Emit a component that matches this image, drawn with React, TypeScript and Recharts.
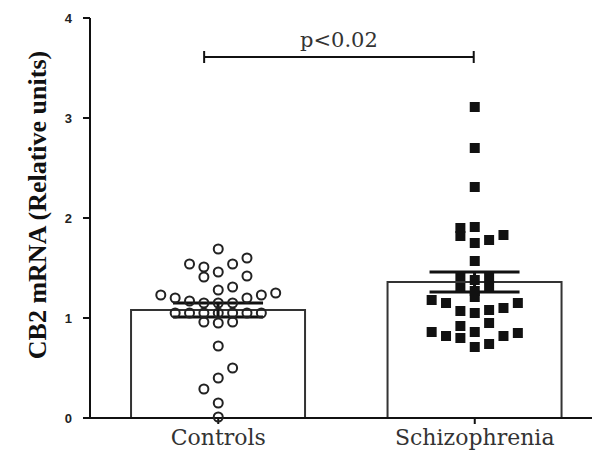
import React from 'react';
import {
  ComposedChart,
  Bar,
  ErrorBar,
  Scatter,
  XAxis,
  YAxis,
  ReferenceLine,
} from 'recharts';

// groups and summary values
const groups = ['Controls', 'Schizophrenia'];
const groupMeans = [1.08, 1.36];
const groupSems = [0.07, 0.1];
const yTicks = [0, 1, 2, 3, 4];

// individual subjects: jitter column and value
const controlCols = [
  0, 2, -2, -1, 1, -1, 0, 2, 0, 1,
  -4, -3, -2, -1, 0, 1, 2, 3, 4,
  -3, -2, -1, 0, 1, 2, 3,
  -1, 0, 1,
  0, 1, 0, -1, 0, 0,
];
const controlVals = [
  1.69, 1.6, 1.54, 1.51, 1.54, 1.41, 1.46, 1.42, 1.28, 1.31,
  1.23, 1.2, 1.17, 1.15, 1.15, 1.15, 1.2, 1.23, 1.25,
  1.05, 1.05, 1.05, 1.05, 1.05, 1.05, 1.05,
  0.96, 0.95, 0.96,
  0.72, 0.5, 0.4, 0.29, 0.15, 0.01,
];
const schizoCols = [
  0, 0, 0,
  -1, -1, 0, 0, 1, 2,
  0,
  -1, 0, 1, -1, 0, 1,
  0,
  -3, -2, -1, 0, 1, 2, 3,
  1, -1, -3, -2, -1, 0, 2, 3, 0, 1,
];
const schizoVals = [
  3.11, 2.7, 2.31,
  1.9, 1.82, 1.91, 1.75, 1.78, 1.83,
  1.57,
  1.42, 1.38, 1.41, 1.3, 1.27, 1.32,
  1.21,
  1.18, 1.15, 1.07, 1.05, 1.08, 1.1, 1.15,
  0.95, 0.92, 0.86, 0.82, 0.8, 0.86, 0.82, 0.85, 0.71, 0.74,
];

// significance bracket
const bracketFrom = 0.445;
const bracketTo = 1.496;
const bracketY = 3.61;
const bracketLabel = 'p<0.02';

const COL_STEP = 0.056;

const barData = groups.map((name, i) => ({ name, mean: groupMeans[i], sem: groupSems[i] }));
const controlPts = controlVals.map((y, i) => ({ x: 0.5 + controlCols[i] * COL_STEP, y }));
const schizoPts = schizoVals.map((y, i) => ({ x: 1.5 + schizoCols[i] * COL_STEP, y }));

const OpenCircle = (props: any) => (
  <circle cx={props.cx} cy={props.cy} r={4.5} fill="none" stroke="#222" strokeWidth={2} />
);
const FilledSquare = (props: any) => (
  <rect x={props.cx - 5} y={props.cy - 5} width={10} height={10} fill="#111" />
);

export default function App() {
  return (
    <div style={{ width: 592, height: 456, overflow: 'hidden' }}>
      <ComposedChart
        width={595}
        height={456}
        data={barData}
        margin={{ top: 10, right: 0, bottom: 0, left: 0 }}
        barCategoryGap="16%"
      >
        <XAxis
          xAxisId="cat"
          dataKey="name"
          type="category"
          height={46}
          stroke="#111"
          strokeWidth={2}
          tickSize={6}
          tickMargin={5}
          tick={{ fontSize: 22, fontFamily: 'DejaVu Serif', fill: '#333' }}
        />
        <XAxis xAxisId="num" dataKey="x" type="number" domain={[0, 2]} hide />
        <YAxis
          domain={[0, 4]}
          ticks={yTicks}
          width={82}
          stroke="#111"
          strokeWidth={2}
          tickSize={7}
          tickMargin={11}
          tick={{ fontSize: 13, fontFamily: 'Liberation Sans', fontWeight: 'bold', fill: '#222' }}
          label={{
            value: 'CB2 mRNA (Relative units)',
            angle: -90,
            position: 'center',
            dx: -12,
            dy: -13,
            style: { fontSize: 26, fontFamily: 'Liberation Serif', fontWeight: 'bold', fill: '#111', textAnchor: 'middle' },
          }}
        />
        <Bar xAxisId="cat" dataKey="mean" fill="#fff" stroke="#333" strokeWidth={2} isAnimationActive={false}>
          <ErrorBar dataKey="sem" width={45} stroke="#111" strokeWidth={3} direction="y" />
        </Bar>
        <Scatter xAxisId="num" data={controlPts} dataKey="y" shape={OpenCircle} isAnimationActive={false} />
        <Scatter xAxisId="num" data={schizoPts} dataKey="y" shape={FilledSquare} isAnimationActive={false} />
        <ReferenceLine
          xAxisId="num"
          segment={[{ x: bracketFrom, y: bracketY }, { x: bracketTo, y: bracketY }]}
          stroke="#111"
          strokeWidth={2}
          label={{ value: bracketLabel, position: 'top', offset: 10, fontSize: 21, fontFamily: 'DejaVu Serif', fill: '#333' }}
        />
        <ReferenceLine
          xAxisId="num"
          segment={[{ x: bracketFrom, y: bracketY - 0.06 }, { x: bracketFrom, y: bracketY + 0.06 }]}
          stroke="#111"
          strokeWidth={2}
        />
        <ReferenceLine
          xAxisId="num"
          segment={[{ x: bracketTo, y: bracketY - 0.06 }, { x: bracketTo, y: bracketY + 0.06 }]}
          stroke="#111"
          strokeWidth={2}
        />
      </ComposedChart>
    </div>
  );
}
